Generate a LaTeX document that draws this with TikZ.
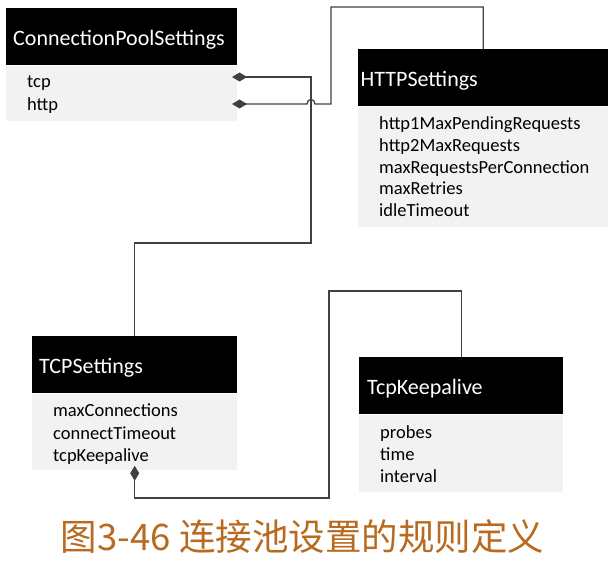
\documentclass[tikz,border=0pt]{standalone}
\usepackage{fontspec}
\setmainfont{Carlito}
\newfontfamily\cjk{Noto Sans CJK SC}
\usetikzlibrary{arrows.meta}
\definecolor{boxgray}{RGB}{242,242,242}
\definecolor{linegray}{RGB}{64,64,64}
\definecolor{captionbrown}{RGB}{184,106,30}
\tikzset{
  header/.style={fill=black, text=white, anchor=north west, minimum height=57pt,
    inner xsep=7pt, align=left, text height=17pt, text depth=0pt,
    font=\fontsize{22}{26}\selectfont},
  fieldbox/.style={fill=boxgray, anchor=north west, inner sep=0pt},
  field/.style={anchor=west, inner sep=0pt, text height=12pt, text depth=0pt,
    font=\fontsize{18.5}{22}\selectfont},
  link/.style={draw=linegray, line width=1.3pt},
  owns/.style={link, {Diamond[length=15pt,width=9pt]}-}
}
\begin{document}
\begin{tikzpicture}[x=1pt, y=-1pt]
  \useasboundingbox (0,0) rectangle (612,561);

  \node[header, text width=217pt] (cps) at (6,8) {ConnectionPoolSettings};
  \node[fieldbox, minimum width=231pt, minimum height=55pt] (cpsbody) at (cps.south west) {};
  \node[field] (ftcp) at (27,82) {tcp};
  \node[field] (fhttp) at (27,105) {http};

  \node[header, inner xsep=2.5pt, text width=245pt] (http) at (358,49) {HTTPSettings};
  \node[fieldbox, minimum width=250pt, minimum height=120pt] (httpbody) at (http.south west) {};
  \node[field] (fpending) at (379,124) {http1MaxPendingRequests};
  \node[field] (fmaxreq) at (379,146) {http2MaxRequests};
  \node[field] (fperconn) at (379,168) {maxRequestsPerConnection};
  \node[field] (fretries) at (379,189) {maxRetries};
  \node[field] (fidle) at (379,211) {idleTimeout};

  \node[header, text width=191pt] (tcp) at (32,336) {TCPSettings};
  \node[fieldbox, minimum width=205pt, minimum height=76pt] (tcpbody) at (tcp.south west) {};
  \node[field] (fmaxconn) at (53,410) {maxConnections};
  \node[field] (ftimeout) at (53,433) {connectTimeout};
  \node[field] (fkeep) at (53,455) {tcpKeepalive};

  \node[header, inner xsep=8pt, text width=188pt] (keep) at (359,357) {TcpKeepalive};
  \node[fieldbox, minimum width=204pt, minimum height=77pt] (keepbody) at (keep.south west) {};
  \node[field] (fprobes) at (380,432) {probes};
  \node[field] (ftime) at (380,454) {time};
  \node[field] (finterval) at (380,476) {interval};

  \coordinate (ctcp) at (232,77);
  \coordinate (chttp) at (232,104);
  \coordinate (tbend) at (311,243);
  \coordinate (hbend) at (331,7);
  \coordinate (kbend) at (329,498);
  \coordinate (kbend2) at (329,291);

  \draw[owns] (ctcp) -| (tbend) -| (tcp.north);
  \draw[owns] (chttp) -- (307,104) .. controls (307,98) and (315,98) .. (315,104)
    -- (331,104) -- (hbend) -| (http.north);
  \draw[owns] ([yshift=4pt]tcpbody.south) |- (kbend) -- (kbend2) -| (keep.north);

  \node[font=\cjk\fontsize{36.5}{42}\selectfont, text=captionbrown] (caption) at (302.5,537)
    {图3-46 连接池设置的规则定义};
\end{tikzpicture}
\end{document}
